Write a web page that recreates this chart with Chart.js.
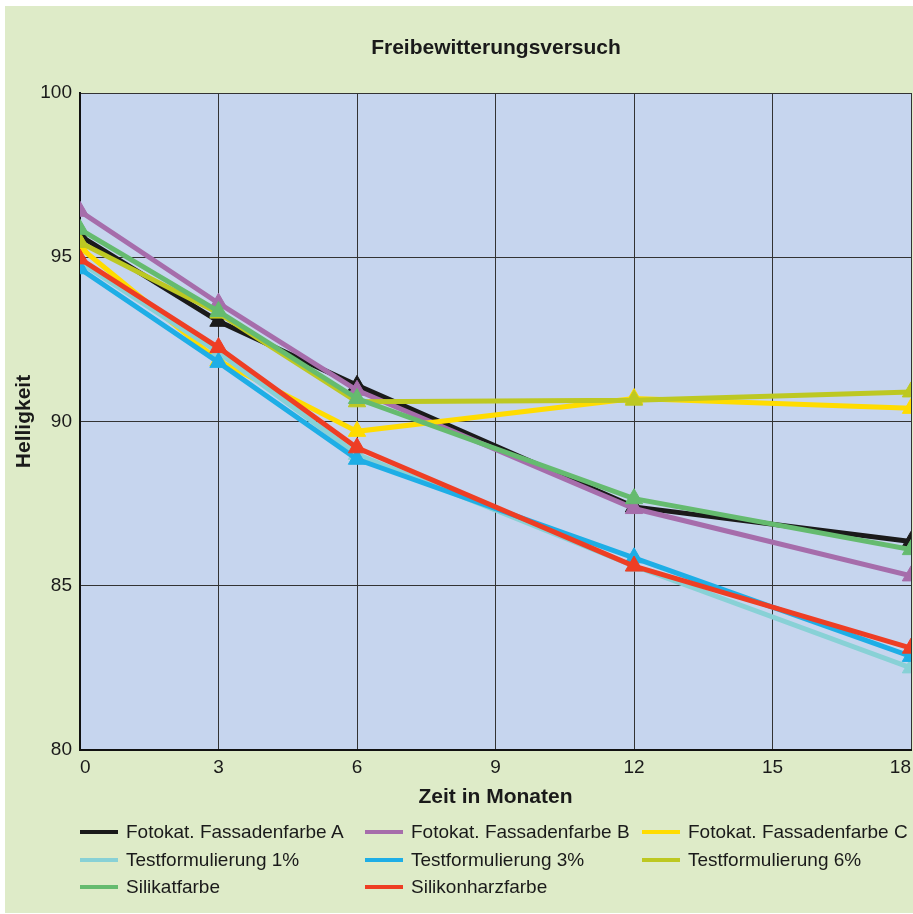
<!DOCTYPE html>
<html>
<head>
<meta charset="utf-8">
<script src="https://cdn.jsdelivr.net/npm/chart.js@4.4.0/dist/chart.umd.min.js"></script>
<style>
    html, body { margin: 0; padding: 0; background: #ffffff; }
    #bg { position: absolute; left: 5px; top: 6px; width: 908px; height: 907px; background: #deebc8; }
    #wrap { position: absolute; left: 0; top: 0; width: 913px; height: 914px; }
    #title { position: absolute; left: 296px; width: 400px; top: 35px; text-align: center;
        font: bold 21px "Liberation Sans", Arial, sans-serif; color: #1a1a1a; }
    .leg { position: absolute; font: 19px "Liberation Sans", Arial, sans-serif; color: #1a1a1a; white-space: nowrap; }
    .leg span { position: absolute; left: 0; top: 11px; width: 38px; height: 4px; }
    .leg b { font-weight: normal; position: absolute; left: 46px; top: 0; line-height: 26px; }
</style>
</head>
<body>
<div id="bg"></div>
<div id="wrap"><canvas id="chart" width="913" height="914"></canvas></div>
<div id="title">Freibewitterungsversuch</div>
<div id="legend"></div>
<script>
// Werte
const monate = [0, 3, 6, 12, 18];
const serien = [
    "Fotokat. Fassadenfarbe A", "Fotokat. Fassadenfarbe B", "Fotokat. Fassadenfarbe C",
    "Testformulierung 1%", "Testformulierung 3%", "Testformulierung 6%",
    "Silikatfarbe", "Silikonharzfarbe"
];
const farbeA = [95.65, 93.05, 91.1, 87.4, 86.35];
const farbeB = [96.4, 93.6, 90.95, 87.35, 85.3];
const farbeC = [95.3, 91.85, 89.7, 90.7, 90.4];
const test1 = [94.85, 92.1, 89.0, 85.6, 82.5];
const test3 = [94.65, 91.8, 88.85, 85.85, 82.85];
const test6 = [95.45, 93.3, 90.6, 90.65, 90.9];
const silikat = [95.85, 93.35, 90.7, 87.65, 86.1];
const silikonharz = [94.95, 92.25, 89.2, 85.6, 83.1];
const werte = [farbeA, farbeB, farbeC, test1, test3, test6, silikat, silikonharz];
const farben = ["#1a1a1a", "#a66dab", "#ffdc00", "#88d1d6", "#1eaee6", "#bdc822", "#65bb6f", "#ee3e24"];

const schrift = "'Liberation Sans', Arial, sans-serif";

// Hintergrund der Zeichenfläche
const plotBg = {
    id: "plotBg",
    beforeDraw(chart) {
        const { ctx, chartArea: a } = chart;
        ctx.save();
        ctx.fillStyle = "#c6d5ee";
        ctx.fillRect(a.left, a.top, a.right - a.left, a.bottom - a.top);
        ctx.restore();
    }
};

const datasets = serien.map((name, i) => ({
    label: name,
    data: monate.map((m, j) => ({ x: m, y: werte[i][j] })),
    borderColor: farben[i],
    backgroundColor: farben[i],
    borderWidth: 5,
    pointStyle: "triangle",
    pointRadius: 10,
    pointBorderWidth: 1,
    tension: 0,
    clip: 0,
    order: serien.length - i
}));

new Chart(document.getElementById("chart").getContext("2d"), {
    type: "line",
    data: { datasets },
    options: {
        responsive: false,
        animation: false,
        layout: { autoPadding: false, padding: { left: 0, right: 2, top: 93, bottom: 99 } },
        plugins: {
            legend: { display: false },
            title: { display: false },
            tooltip: { enabled: false }
        },
        scales: {
            x: {
                type: "linear",
                min: 0,
                max: 18,
                afterFit(scale) {
                    scale.height = 65;
                    scale.paddingLeft = 0;
                    scale.paddingRight = 0;
                },
                ticks: { stepSize: 3, align: "inner", padding: 6, color: "#1a1a1a", font: { family: schrift, size: 19 } },
                grid: { color: "#333333", lineWidth: 1, drawTicks: false },
                border: { color: "#111111", width: 2 },
                title: { display: true, text: "Zeit in Monaten", color: "#1a1a1a",
                    font: { family: schrift, size: 21, weight: "bold" }, padding: { top: 0, bottom: 5 } }
            },
            y: {
                min: 80,
                max: 100,
                afterFit(scale) { scale.width = 80; },
                ticks: { stepSize: 5, padding: 8, color: "#1a1a1a", font: { family: schrift, size: 19 } },
                grid: { color: "#333333", lineWidth: 1, drawTicks: false },
                border: { color: "#111111", width: 2 },
                title: { display: true, text: "Helligkeit", color: "#1a1a1a",
                    font: { family: schrift, size: 21, weight: "bold" }, padding: { top: 12, bottom: 0 } }
            }
        }
    },
    plugins: [plotBg]
});

// Legende in drei Spalten
const spaltenX = [80, 365, 642];
const zeilenY = [819, 847, 874];
const legende = document.getElementById("legend");
serien.forEach((name, i) => {
    const el = document.createElement("div");
    el.className = "leg";
    el.style.left = spaltenX[i % 3] + "px";
    el.style.top = zeilenY[Math.floor(i / 3)] + "px";
    el.innerHTML = '<span style="background:' + farben[i] + '"></span><b>' + name + '</b>';
    legende.appendChild(el);
});
</script>
</body>
</html>
